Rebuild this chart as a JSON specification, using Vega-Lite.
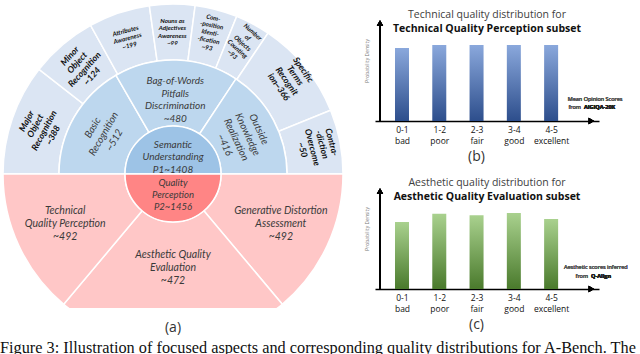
{
  "$schema": "https://vega.github.io/schema/vega-lite/v6.json",
  "padding": 0,
  "background": "white",
  "config": {"view": {"stroke": null}},
  "title": {"text": "Figure 3: Illustration of focused aspects and corresponding quality distributions for A-Bench. The", "orient": "bottom", "anchor": "start", "font": "Liberation Serif", "fontSize": 16.3, "fontWeight": "normal", "color": "#111", "offset": 5},
  "datasets": {
    "sun": [
      {"part": "top-outer", "k": 1, "label": "Major\nObject\nRecognition\n~388", "share": 38},
      {"part": "top-outer", "k": 2, "label": "Minor\nObject\nRecognition\n~124", "share": 23},
      {"part": "top-outer", "k": 3, "label": "Attributes\nAwareness\n~199", "share": 21},
      {"part": "top-outer", "k": 4, "label": "Nouns as\nAdjectives\nAwareness\n~99", "share": 15.5},
      {"part": "top-outer", "k": 5, "label": "Com-\n-position\nIdenti-\n-fication\n~93", "share": 14.5},
      {"part": "top-outer", "k": 6, "label": "Number\nof\nObjects\nCounting\n~93", "share": 12},
      {"part": "top-outer", "k": 7, "label": "Specific\nTerms\nRecognit\nion~366", "share": 34},
      {"part": "top-outer", "k": 8, "label": "Contra-\n-diction\nOvercome\n~50", "share": 22},
      {"part": "top-middle", "k": 1, "label": "Basic\nRecognition\n~512", "share": 60},
      {"part": "top-middle", "k": 2, "label": "Bag-of-Words\nPitfalls\nDiscrimination\n~480", "share": 63.5},
      {"part": "top-middle", "k": 3, "label": "Outside\nKnowledge\nRealization\n~416", "share": 56.5},
      {"part": "top-inner", "k": 1, "label": "Semantic\nUnderstanding\nP1~1408", "share": 180},
      {"part": "bottom-inner", "k": 1, "label": "Quality\nPerception\nP2~1456", "share": 180},
      {"part": "bottom-outer", "k": 1, "label": "Generative Distortion\nAssessment\n~492", "share": 50},
      {"part": "bottom-outer", "k": 2, "label": "Aesthetic Quality\nEvaluation\n~472", "share": 80},
      {"part": "bottom-outer", "k": 3, "label": "Technical\nQuality Perception\n~492", "share": 50}
    ],
    "tech": [
      {"bin": "0-1", "mid": 0.5, "density": 0.96},
      {"bin": "1-2", "mid": 1.5, "density": 1.0},
      {"bin": "2-3", "mid": 2.5, "density": 1.0},
      {"bin": "3-4", "mid": 3.5, "density": 1.0},
      {"bin": "4-5", "mid": 4.5, "density": 1.0}
    ],
    "aes": [
      {"bin": "0-1", "mid": 0.5, "density": 0.88},
      {"bin": "1-2", "mid": 1.5, "density": 0.99},
      {"bin": "2-3", "mid": 2.5, "density": 0.97},
      {"bin": "3-4", "mid": 3.5, "density": 1.0},
      {"bin": "4-5", "mid": 4.5, "density": 0.92}
    ]
  },
  "bounds": "flush",
  "spacing": 31,
  "hconcat": [
    {
      "width": 342,
      "height": 308,
      "title": {"text": "(a)", "orient": "bottom", "frame": "group", "offset": 13, "font": "Open Sans", "fontSize": 14, "fontWeight": "normal", "color": "#333"},
      "data": {"name": "sun"},
      "encoding": {
        "x": {"datum": 0, "type": "quantitative", "scale": {"domain": [-171, 171], "nice": false, "zero": false}, "axis": null},
        "y": {"datum": 0, "type": "quantitative", "scale": {"domain": [-134, 174], "nice": false, "zero": false}, "axis": null},
        "order": {"field": "k", "type": "quantitative"}
      },
      "layer": [
        {
          "transform": [{"filter": "datum.part == 'top-outer'"}],
          "mark": {"type": "arc", "radius": 170, "radius2": 114, "color": "#dbe5f3", "stroke": "white", "strokeWidth": 1.5},
          "encoding": {"theta": {"field": "share", "type": "quantitative", "stack": true, "scale": {"domain": [0, 180], "range": [-1.5708, 1.5708]}}}
        },
        {
          "transform": [{"filter": "datum.part == 'top-middle'"}],
          "mark": {"type": "arc", "radius": 114, "radius2": 48, "color": "#bdd7ee", "stroke": "white", "strokeWidth": 1.5},
          "encoding": {"theta": {"field": "share", "type": "quantitative", "stack": true, "scale": {"domain": [0, 180], "range": [-1.5708, 1.5708]}}}
        },
        {
          "transform": [{"filter": "datum.part == 'top-inner'"}],
          "mark": {"type": "arc", "radius": 48, "radius2": 0, "color": "#9dc3e6", "stroke": "white", "strokeWidth": 1.5},
          "encoding": {"theta": {"field": "share", "type": "quantitative", "stack": true, "scale": {"domain": [0, 180], "range": [-1.5708, 1.5708]}}}
        },
        {
          "transform": [{"filter": "datum.part == 'bottom-outer'"}],
          "mark": {"type": "arc", "radius": 170, "radius2": 48, "color": "#ffc7c7", "stroke": "white", "strokeWidth": 1.5, "clip": true},
          "encoding": {"theta": {"field": "share", "type": "quantitative", "stack": true, "scale": {"domain": [0, 180], "range": [1.5708, 4.7124]}}}
        },
        {
          "transform": [{"filter": "datum.part == 'bottom-inner'"}],
          "mark": {"type": "arc", "radius": 48, "radius2": 0, "color": "#ff8585", "stroke": "white", "strokeWidth": 1.5},
          "encoding": {"theta": {"field": "share", "type": "quantitative", "stack": true, "scale": {"domain": [0, 180], "range": [1.5708, 4.7124]}}}
        },
        {
          "transform": [{"filter": "datum.part == 'top-outer'"}],
          "mark": {"type": "text", "radius": 141, "angle": 298, "dy": -15, "lineBreak": "\n", "font": "Lato", "fontStyle": "italic", "fontWeight": "bold", "fontSize": 8.8, "lineHeight": 10, "color": "#111"},
          "encoding": {"theta": {"field": "share", "type": "quantitative", "stack": true, "scale": {"domain": [0, 180], "range": [-1.5708, 1.5708]}}, "text": {"condition": {"test": "datum.k != 1", "value": ""}, "field": "label"}}
        },
        {
          "transform": [{"filter": "datum.part == 'top-outer'"}],
          "mark": {"type": "text", "radius": 142, "angle": 312, "dy": -15, "lineBreak": "\n", "font": "Lato", "fontStyle": "italic", "fontWeight": "bold", "fontSize": 8.8, "lineHeight": 10, "color": "#111"},
          "encoding": {"theta": {"field": "share", "type": "quantitative", "stack": true, "scale": {"domain": [0, 180], "range": [-1.5708, 1.5708]}}, "text": {"condition": {"test": "datum.k != 2", "value": ""}, "field": "label"}}
        },
        {
          "transform": [{"filter": "datum.part == 'top-outer'"}],
          "mark": {"type": "text", "radius": 143, "angle": 345, "dy": -7.6, "lineBreak": "\n", "font": "Lato", "fontStyle": "italic", "fontWeight": "bold", "fontSize": 6.3, "lineHeight": 7.6, "color": "#111"},
          "encoding": {"theta": {"field": "share", "type": "quantitative", "stack": true, "scale": {"domain": [0, 180], "range": [-1.5708, 1.5708]}}, "text": {"condition": {"test": "datum.k != 3", "value": ""}, "field": "label"}}
        },
        {
          "transform": [{"filter": "datum.part == 'top-outer'"}],
          "mark": {"type": "text", "radius": 142, "angle": 0, "dy": -11.4, "lineBreak": "\n", "font": "Lato", "fontStyle": "italic", "fontWeight": "bold", "fontSize": 6.3, "lineHeight": 7.6, "color": "#111"},
          "encoding": {"theta": {"field": "share", "type": "quantitative", "stack": true, "scale": {"domain": [0, 180], "range": [-1.5708, 1.5708]}}, "text": {"condition": {"test": "datum.k != 4", "value": ""}, "field": "label"}}
        },
        {
          "transform": [{"filter": "datum.part == 'top-outer'"}],
          "mark": {"type": "text", "radius": 146, "angle": 12, "dy": -15.2, "lineBreak": "\n", "font": "Lato", "fontStyle": "italic", "fontWeight": "bold", "fontSize": 6.3, "lineHeight": 7.6, "color": "#111"},
          "encoding": {"theta": {"field": "share", "type": "quantitative", "stack": true, "scale": {"domain": [0, 180], "range": [-1.5708, 1.5708]}}, "text": {"condition": {"test": "datum.k != 5", "value": ""}, "field": "label"}}
        },
        {
          "transform": [{"filter": "datum.part == 'top-outer'"}],
          "mark": {"type": "text", "radius": 148, "angle": 42, "dy": -15.2, "lineBreak": "\n", "font": "Lato", "fontStyle": "italic", "fontWeight": "bold", "fontSize": 6.3, "lineHeight": 7.6, "color": "#111"},
          "encoding": {"theta": {"field": "share", "type": "quantitative", "stack": true, "scale": {"domain": [0, 180], "range": [-1.5708, 1.5708]}}, "text": {"condition": {"test": "datum.k != 6", "value": ""}, "field": "label"}}
        },
        {
          "transform": [{"filter": "datum.part == 'top-outer'"}],
          "mark": {"type": "text", "radius": 152, "angle": 55, "dy": -15, "lineBreak": "\n", "font": "Lato", "fontStyle": "italic", "fontWeight": "bold", "fontSize": 8.8, "lineHeight": 10, "color": "#111"},
          "encoding": {"theta": {"field": "share", "type": "quantitative", "stack": true, "scale": {"domain": [0, 180], "range": [-1.5708, 1.5708]}}, "text": {"condition": {"test": "datum.k != 7", "value": ""}, "field": "label"}}
        },
        {
          "transform": [{"filter": "datum.part == 'top-outer'"}],
          "mark": {"type": "text", "radius": 147, "angle": 75, "dy": -15, "lineBreak": "\n", "font": "Lato", "fontStyle": "italic", "fontWeight": "bold", "fontSize": 8.8, "lineHeight": 10, "color": "#111"},
          "encoding": {"theta": {"field": "share", "type": "quantitative", "stack": true, "scale": {"domain": [0, 180], "range": [-1.5708, 1.5708]}}, "text": {"condition": {"test": "datum.k != 8", "value": ""}, "field": "label"}}
        },
        {
          "transform": [{"filter": "datum.part == 'top-middle'"}],
          "mark": {"type": "text", "radius": 80, "angle": 300, "dy": -12.5, "lineBreak": "\n", "font": "Lato", "fontStyle": "italic", "fontSize": 10, "lineHeight": 12.5, "color": "#3a3a3a"},
          "encoding": {"theta": {"field": "share", "type": "quantitative", "stack": true, "scale": {"domain": [0, 180], "range": [-1.5708, 1.5708]}}, "text": {"condition": {"test": "datum.k != 1", "value": ""}, "field": "label"}}
        },
        {
          "transform": [{"filter": "datum.part == 'top-middle'"}],
          "mark": {"type": "text", "radius": 74, "angle": 0, "dy": -18.75, "lineBreak": "\n", "font": "Lato", "fontStyle": "italic", "fontSize": 10, "lineHeight": 12.5, "color": "#3a3a3a"},
          "encoding": {"theta": {"field": "share", "type": "quantitative", "stack": true, "scale": {"domain": [0, 180], "range": [-1.5708, 1.5708]}}, "text": {"condition": {"test": "datum.k != 2", "value": ""}, "field": "label"}}
        },
        {
          "transform": [{"filter": "datum.part == 'top-middle'"}],
          "mark": {"type": "text", "radius": 78, "angle": 65, "dy": -18.75, "lineBreak": "\n", "font": "Lato", "fontStyle": "italic", "fontSize": 10, "lineHeight": 12.5, "color": "#3a3a3a"},
          "encoding": {"theta": {"field": "share", "type": "quantitative", "stack": true, "scale": {"domain": [0, 180], "range": [-1.5708, 1.5708]}}, "text": {"condition": {"test": "datum.k != 3", "value": ""}, "field": "label"}}
        },
        {
          "transform": [{"filter": "datum.part == 'top-inner'"}],
          "mark": {"type": "text", "radius": 17, "dy": -12.5, "lineBreak": "\n", "font": "Lato", "fontStyle": "italic", "fontSize": 10, "lineHeight": 12.5, "color": "#3a3a3a"},
          "encoding": {"theta": {"field": "share", "type": "quantitative", "stack": true, "scale": {"domain": [0, 180], "range": [-1.5708, 1.5708]}}, "text": {"field": "label"}}
        },
        {
          "transform": [{"filter": "datum.part == 'bottom-inner'"}],
          "mark": {"type": "text", "radius": 21, "dy": -12, "lineBreak": "\n", "font": "Lato", "fontStyle": "italic", "fontSize": 9.5, "lineHeight": 12, "color": "#3a3a3a"},
          "encoding": {"theta": {"field": "share", "type": "quantitative", "stack": true, "scale": {"domain": [0, 180], "range": [1.5708, 4.7124]}}, "text": {"field": "label"}}
        },
        {
          "transform": [{"filter": "datum.part == 'bottom-outer'"}],
          "mark": {"type": "text", "radius": 119, "dy": -13, "lineBreak": "\n", "font": "Lato", "fontStyle": "italic", "fontSize": 10.5, "lineHeight": 13, "color": "#3a3a3a"},
          "encoding": {"theta": {"field": "share", "type": "quantitative", "stack": true, "scale": {"domain": [0, 180], "range": [1.5708, 4.7124]}}, "text": {"condition": {"test": "datum.k == 2", "value": ""}, "field": "label"}}
        },
        {
          "transform": [{"filter": "datum.part == 'bottom-outer'"}],
          "mark": {"type": "text", "radius": 94, "dy": -13, "lineBreak": "\n", "font": "Lato", "fontStyle": "italic", "fontSize": 10.5, "lineHeight": 13, "color": "#3a3a3a"},
          "encoding": {"theta": {"field": "share", "type": "quantitative", "stack": true, "scale": {"domain": [0, 180], "range": [1.5708, 4.7124]}}, "text": {"condition": {"test": "datum.k != 2", "value": ""}, "field": "label"}}
        }
      ],
      "resolve": {"scale": {"theta": "independent"}}
    },
    {
      "vconcat": [
        {
          "width": 224,
          "height": 121,
          "title": {"text": "Technical quality distribution for", "subtitle": "Technical Quality Perception subset", "orient": "top", "anchor": "middle", "frame": "group", "offset": -34, "font": "Open Sans", "fontSize": 10.5, "fontWeight": "normal", "color": "#404040", "subtitleFont": "Open Sans", "subtitleFontSize": 10.5, "subtitleFontWeight": "bold", "subtitleColor": "#111", "subtitlePadding": 3},
          "data": {"name": "tech"},
          "layer": [
            {
              "mark": {"type": "bar", "width": 14, "color": {"gradient": "linear", "x1": 0, "y1": 0, "x2": 0, "y2": 1, "stops": [{"offset": 0, "color": "#8aa8dc"}, {"offset": 1, "color": "#2d4e8c"}]}},
              "encoding": {
                "x": {"field": "mid", "type": "quantitative", "scale": {"domain": [-0.09, 5.65], "nice": false, "zero": false},
                  "axis": {"values": [0.5, 1.5, 2.5, 3.5, 4.5], "labelExpr": "[['0-1','bad'],['1-2','poor'],['2-3','fair'],['3-4','good'],['4-5','excellent']][floor(datum.value)]", "domain": true, "domainColor": "black", "domainWidth": 1.5, "ticks": false, "grid": false, "labelFont": "Open Sans", "labelFontSize": 8.5, "labelColor": "#111", "labelPadding": 4, "labelLineHeight": 11, "labelFlush": false, "labelOverlap": false, "title": "(b)", "titleFont": "Open Sans", "titleFontSize": 14, "titleFontWeight": "normal", "titleColor": "#333", "titlePadding": 5, "titleX": 101}},
                "y": {"field": "density", "type": "quantitative", "scale": {"domain": [0, 1.592], "nice": false},
                  "axis": {"domain": false, "ticks": false, "labels": false, "grid": false, "title": "Probability Density", "titleFont": "Open Sans", "titleFontSize": 5, "titleFontWeight": "normal", "titleColor": "#777", "titlePadding": 6}}
              }
            },
            {"mark": {"type": "rule", "color": "black", "strokeWidth": 1.5}, "encoding": {"x": {"datum": -0.09}, "y": {"datum": 0}, "y2": {"datum": 1.27}}},
            {"mark": {"type": "point", "shape": "triangle-up", "filled": true, "color": "black", "opacity": 1, "size": 40}, "encoding": {"x": {"datum": -0.09}, "y": {"datum": 1.29}}},
            {"mark": {"type": "point", "shape": "triangle-right", "filled": true, "color": "black", "opacity": 1, "size": 40}, "encoding": {"x": {"datum": 5.58}, "y": {"datum": 0}}},
            {"mark": {"type": "text", "text": "Mean Opinion Scores", "font": "Open Sans", "fontSize": 5.5, "color": "#595959", "align": "center"}, "encoding": {"x": {"datum": 5.68}, "y": {"datum": 0.29}}},
            {"mark": {"type": "text", "text": "from", "font": "Open Sans", "fontSize": 5.5, "color": "#595959", "align": "right", "dx": -1.5}, "encoding": {"x": {"datum": 5.34}, "y": {"datum": 0.18}}},
            {"mark": {"type": "text", "text": "AIGIQA-20K", "font": "Open Sans", "fontSize": 5.5, "fontWeight": "bold", "color": "#222", "align": "left", "dx": 1.5}, "encoding": {"x": {"datum": 5.34}, "y": {"datum": 0.18}}}
          ]
        },
        {
          "width": 224,
          "height": 121,
          "title": {"text": "Aesthetic quality distribution for", "subtitle": "Aesthetic Quality Evaluation subset", "orient": "top", "anchor": "middle", "frame": "group", "offset": -34, "font": "Open Sans", "fontSize": 10.5, "fontWeight": "normal", "color": "#404040", "subtitleFont": "Open Sans", "subtitleFontSize": 10.5, "subtitleFontWeight": "bold", "subtitleColor": "#111", "subtitlePadding": 3},
          "data": {"name": "aes"},
          "layer": [
            {
              "mark": {"type": "bar", "width": 14, "color": {"gradient": "linear", "x1": 0, "y1": 0, "x2": 0, "y2": 1, "stops": [{"offset": 0, "color": "#a9d18e"}, {"offset": 1, "color": "#4a7a2c"}]}},
              "encoding": {
                "x": {"field": "mid", "type": "quantitative", "scale": {"domain": [-0.09, 5.65], "nice": false, "zero": false},
                  "axis": {"values": [0.5, 1.5, 2.5, 3.5, 4.5], "labelExpr": "[['0-1','bad'],['1-2','poor'],['2-3','fair'],['3-4','good'],['4-5','excellent']][floor(datum.value)]", "domain": true, "domainColor": "black", "domainWidth": 1.5, "ticks": false, "grid": false, "labelFont": "Open Sans", "labelFontSize": 8.5, "labelColor": "#111", "labelPadding": 4, "labelLineHeight": 11, "labelFlush": false, "labelOverlap": false, "title": "(c)", "titleFont": "Open Sans", "titleFontSize": 14, "titleFontWeight": "normal", "titleColor": "#333", "titlePadding": 5, "titleX": 101}},
                "y": {"field": "density", "type": "quantitative", "scale": {"domain": [0, 1.592], "nice": false},
                  "axis": {"domain": false, "ticks": false, "labels": false, "grid": false, "title": "Probability Density", "titleFont": "Open Sans", "titleFontSize": 5, "titleFontWeight": "normal", "titleColor": "#777", "titlePadding": 6}}
              }
            },
            {"mark": {"type": "rule", "color": "black", "strokeWidth": 1.5}, "encoding": {"x": {"datum": -0.09}, "y": {"datum": 0}, "y2": {"datum": 1.27}}},
            {"mark": {"type": "point", "shape": "triangle-up", "filled": true, "color": "black", "opacity": 1, "size": 40}, "encoding": {"x": {"datum": -0.09}, "y": {"datum": 1.29}}},
            {"mark": {"type": "point", "shape": "triangle-right", "filled": true, "color": "black", "opacity": 1, "size": 40}, "encoding": {"x": {"datum": 5.58}, "y": {"datum": 0}}},
            {"mark": {"type": "text", "text": "Aesthetic scores inferred", "font": "Open Sans", "fontSize": 5.5, "color": "#595959", "align": "center"}, "encoding": {"x": {"datum": 5.7}, "y": {"datum": 0.29}}},
            {"mark": {"type": "text", "text": "from", "font": "Open Sans", "fontSize": 5.5, "color": "#595959", "align": "right", "dx": -1.5}, "encoding": {"x": {"datum": 5.53}, "y": {"datum": 0.17}}},
            {"mark": {"type": "text", "text": "Q-Align", "font": "Open Sans", "fontSize": 5.5, "fontWeight": "bold", "color": "#222", "align": "left", "dx": 1.5}, "encoding": {"x": {"datum": 5.53}, "y": {"datum": 0.17}}}
          ]
        }
      ],
      "spacing": 47,
      "bounds": "flush"
    }
  ]
}
